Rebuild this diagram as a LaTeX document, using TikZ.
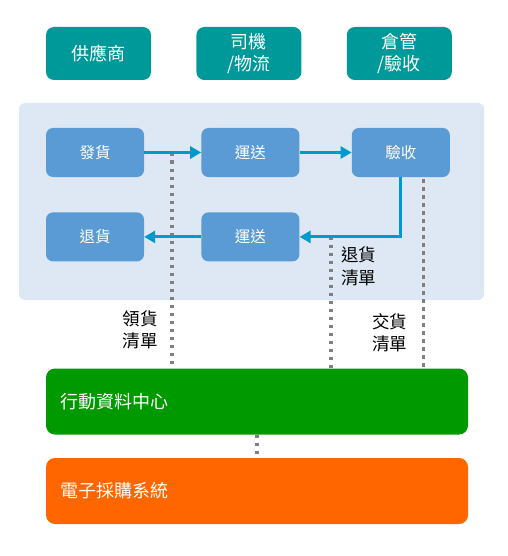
\documentclass[tikz,border=0pt]{standalone}
\usepackage{fontspec}
\setmainfont{Noto Sans CJK TC}
\usetikzlibrary{positioning,arrows.meta}
\definecolor{roleteal}{HTML}{009999}
\definecolor{stepblue}{HTML}{5B9BD5}
\definecolor{flowblue}{HTML}{0099CC}
\definecolor{paneblue}{HTML}{DEE8F4}
\definecolor{dotgray}{HTML}{808080}
\definecolor{mdcgreen}{HTML}{009900}
\definecolor{epsorange}{HTML}{FF6600}
\begin{document}
\begin{tikzpicture}[
        x=1pt, y=-1pt,
        role/.style={rectangle, rounded corners=8pt, fill=roleteal, text=white, align=center, minimum width=105pt, minimum height=53pt, font=\fontsize{18}{22}\selectfont},
        stepbox/.style={rectangle, rounded corners=7pt, fill=stepblue, text=white, minimum width=98pt, minimum height=49pt, font=\fontsize{15.5}{18}\selectfont},
        sysbox/.style={rectangle, rounded corners=9pt, text=white, minimum height=66pt, text width=394pt, inner xsep=14pt, align=left, font=\fontsize{18}{22}\selectfont},
        flow/.style={draw=flowblue, line width=3pt, -{Triangle[length=11pt,width=12pt]}},
        doc/.style={draw=dotgray, line width=3.5pt, dash pattern=on 3.5pt off 4.5pt},
        note/.style={align=left, inner sep=0pt, font=\fontsize{17.5}{22.5}\selectfont}
    ]
        \useasboundingbox (0,0) rectangle (507,556);
        
        \node[role] (sup) at (98.5,53.5) {供應商};
        \node[role] (drv) [right=45pt of sup] {司機\\/物流};
        \node[role] (wh) [right=45pt of drv] {倉管\\/驗收};
        
        \fill[paneblue, rounded corners=6pt] (19,103) rectangle (484,300);
        
        \node[stepbox] (ship) at (95,152.5) {發貨};
        \node[stepbox] (trans1) [right=57pt of ship] {運送};
        \node[stepbox] (insp) [right=52pt of trans1] {驗收};
        \node[stepbox] (ret) [below=35pt of ship] {退貨};
        \node[stepbox] (trans2) [below=35pt of trans1] {運送};
        
        \node[sysbox, fill=mdcgreen] (mdc) at (257,401.5) {行動資料中心};
        \node[sysbox, fill=epsorange] (eps) at (257,491) {電子採購系統};
        
        \node[note, anchor=north east] (picklist) at (158,310) {領貨\\清單};
        \node[note, anchor=north west] (retlist) at (341,247) {退貨\\清單};
        \node[note, anchor=north west] (handlist) at (372,313) {交貨\\清單};
        
        \coordinate (pick) at (172,152.5);
        \coordinate (back) at (331,236.5);
        \coordinate (hand) at ([xshift=22.5pt,yshift=-2pt]insp.south);
        \draw[doc] (pick) -- (pick |- mdc.north);
        \draw[doc] (back) -- (back |- mdc.north);
        \draw[doc] (hand) -- (hand |- mdc.north);
        \draw[doc] (mdc.south) -- (eps.north);
        
        \draw[flow] (ship) -- (trans1);
        \draw[flow] (trans1) -- (insp);
        \draw[flow] (insp.south) |- (trans2.east);
        \draw[flow] (trans2) -- (ret);
    \end{tikzpicture}
\end{document}
